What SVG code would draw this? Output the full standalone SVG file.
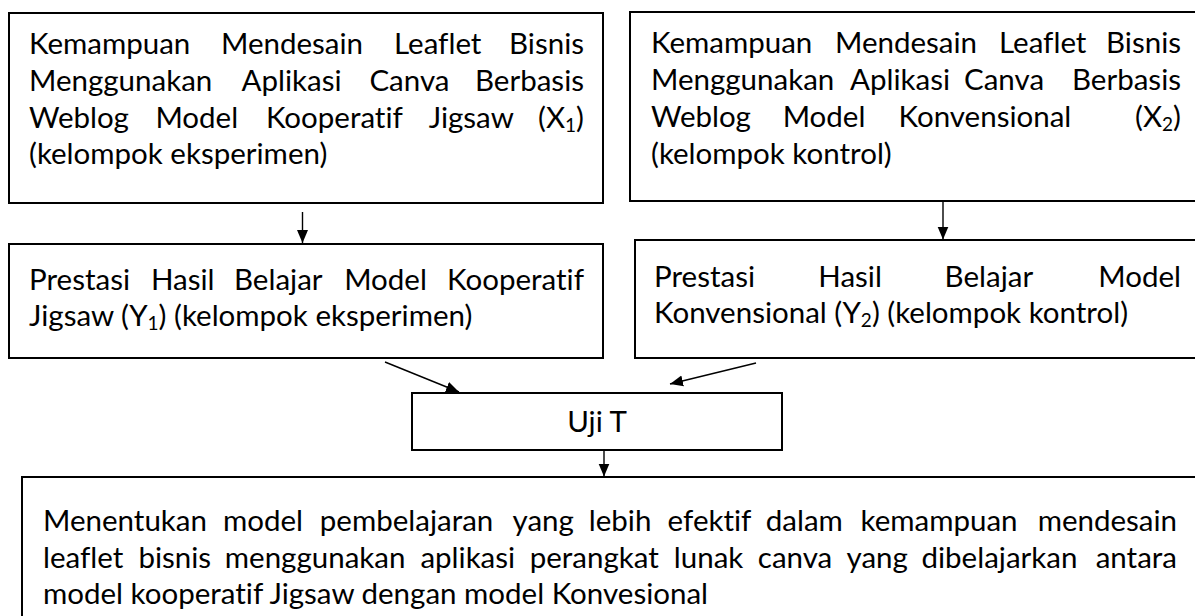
<svg xmlns="http://www.w3.org/2000/svg" width="1195" height="616" viewBox="0 0 1195 616">
<style>
  .box { fill: #ffffff; stroke: #000000; stroke-width: 2; }
  .t { font-family: Lato, "Liberation Sans", sans-serif; font-size: 29.5px; fill: #000000; font-variant-ligatures: none; font-feature-settings: "liga" 0, "clig" 0; }
  .sub { font-size: 19px; }
  .e { text-anchor: end; }
  .c { stroke: #000000; stroke-width: 1.4; fill: none; marker-end: url(#ah); }
</style>
<defs>
  <marker id="ah" markerUnits="userSpaceOnUse" markerWidth="14" markerHeight="12" refX="13" refY="6" orient="auto">
    <path d="M0,0.5 L13,6 L0,11.5 z" fill="#000000"/>
  </marker>
</defs>
<rect width="1195" height="616" fill="#ffffff"/>

<g id="connectors">
  <line class="c" x1="302.5" y1="212" x2="302.5" y2="243"/>
  <line class="c" x1="943" y1="201" x2="943" y2="239.5"/>
  <line class="c" x1="385" y1="362" x2="459" y2="392"/>
  <line class="c" x1="756" y1="363" x2="670" y2="384"/>
  <line class="c" x1="604" y1="450" x2="604" y2="476.5"/>
</g>

<g id="node-x1">
  <rect class="box" x="9" y="13" width="594" height="190"/>
  <text class="t" y="54"><tspan x="29">Kemampuan</tspan><tspan x="221">Mendesain</tspan><tspan x="394">Leaflet</tspan></text>
  <text class="t e" x="584" y="54">Bisnis</text>
  <text class="t" y="91"><tspan x="29">Menggunakan</tspan><tspan x="241.6">Aplikasi</tspan><tspan x="369.4">Canva</tspan></text>
  <text class="t e" x="584" y="91">Berbasis</text>
  <text class="t" y="127.5"><tspan x="29">Weblog</tspan><tspan x="155.4">Model</tspan><tspan x="265.9">Kooperatif</tspan><tspan x="428.7">Jigsaw</tspan></text>
  <text class="t e" x="584" y="127.5">(X<tspan class="sub" dy="4">1</tspan><tspan dy="-4">)</tspan></text>
  <text class="t" x="29" y="164">(kelompok eksperimen)</text>
</g>

<g id="node-x2">
  <rect class="box" x="630" y="12" width="580" height="189"/>
  <text class="t" y="53"><tspan x="651">Kemampuan</tspan><tspan x="835">Mendesain</tspan><tspan x="999">Leaflet</tspan></text>
  <text class="t e" x="1181" y="53">Bisnis</text>
  <text class="t" y="90"><tspan x="651">Menggunakan</tspan><tspan x="850">Aplikasi</tspan><tspan x="964">Canva</tspan></text>
  <text class="t e" x="1181" y="90">Berbasis</text>
  <text class="t" y="127"><tspan x="651">Weblog</tspan><tspan x="782.7">Model</tspan><tspan x="898.5">Konvensional</tspan></text>
  <text class="t e" x="1181" y="127">(X<tspan class="sub" dy="4">2</tspan><tspan dy="-4">)</tspan></text>
  <text class="t" x="651" y="164">(kelompok kontrol)</text>
</g>

<g id="node-y1">
  <rect class="box" x="9" y="244" width="594" height="114"/>
  <text class="t" y="290"><tspan x="29">Prestasi</tspan><tspan x="151">Hasil</tspan><tspan x="234">Belajar</tspan><tspan x="344.2">Model</tspan></text>
  <text class="t e" x="584" y="290">Kooperatif</text>
  <text class="t" x="29" y="326">Jigsaw (Y<tspan class="sub" dy="4">1</tspan><tspan dy="-4">) (kelompok eksperimen)</tspan></text>
</g>

<g id="node-y2">
  <rect class="box" x="635" y="240" width="575" height="118"/>
  <text class="t" y="287"><tspan x="654">Prestasi</tspan><tspan x="818.3">Hasil</tspan><tspan x="944.6">Belajar</tspan></text>
  <text class="t e" x="1181" y="287">Model</text>
  <text class="t" x="654" y="323">Konvensional (Y<tspan class="sub" dy="4">2</tspan><tspan dy="-4">) (kelompok kontrol)</tspan></text>
</g>

<g id="node-ujit">
  <rect class="box" x="412" y="393" width="370" height="57"/>
  <text class="t" x="597" y="432" text-anchor="middle">Uji T</text>
</g>

<g id="node-result">
  <rect class="box" x="22" y="477" width="1190" height="160"/>
  <text class="t" y="531"><tspan x="43">Menentukan</tspan><tspan x="223">model</tspan><tspan x="319.8">pembelajaran</tspan><tspan x="512.5">yang</tspan><tspan x="588.8">lebih</tspan><tspan x="667.6">efektif</tspan><tspan x="765.8">dalam</tspan><tspan x="860.5">kemampuan</tspan></text>
  <text class="t e" x="1177" y="531">mendesain</text>
  <text class="t" y="568"><tspan x="43">leaflet</tspan><tspan x="138.4">bisnis</tspan><tspan x="224.8">menggunakan</tspan><tspan x="420.4">aplikasi</tspan><tspan x="529.7">perangkat</tspan><tspan x="673.8">lunak</tspan><tspan x="757.8">canva</tspan><tspan x="846.5">yang</tspan><tspan x="921.5">dibelajarkan</tspan></text>
  <text class="t e" x="1177" y="568">antara</text>
  <text class="t" x="43" y="604">model kooperatif Jigsaw dengan model Konvesional</text>
</g>
</svg>
